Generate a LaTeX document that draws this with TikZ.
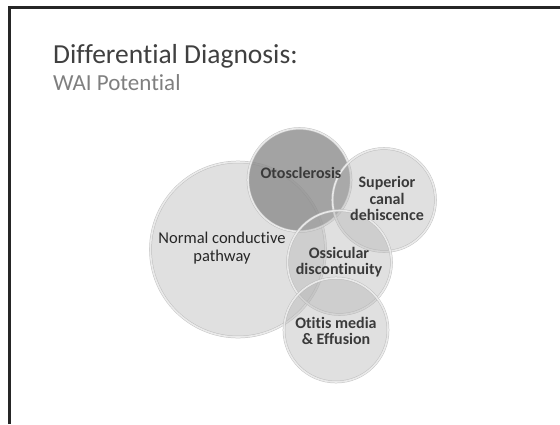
\documentclass[tikz,border=0pt]{standalone}
\usepackage{fontspec}
\setmainfont{Carlito}[Ligatures=NoCommon]
\usepackage{xcolor}
\usepackage{tikz}

\definecolor{titlegray}{HTML}{404040}
\definecolor{subgray}{HTML}{7F7F7F}
\definecolor{labelgray}{HTML}{3A3A3A}

\begin{document}
\begin{tikzpicture}[
    x=1pt,
    y=-1pt,
    bubble/.style={
        circle,
        draw=gray!55,
        line width=0.5pt,
        double=white!90!gray,
        double distance=1.6pt,
        fill=gray!60,
        fill opacity=0.4,
        draw opacity=0.85,
        inner sep=0pt
    },
    darkbubble/.style={
        bubble,
        fill=gray!90,
        fill opacity=0.8
    },
    bubbletext/.style={
        align=center,
        font=\bfseries\fontsize{16}{16.5}\selectfont,
        text=labelgray
    }
]

% ---------------------------------------------------------
% Slide frame
% ---------------------------------------------------------

\useasboundingbox (0,0) rectangle (560,424);

\draw[line width=3pt,black!85]
    (9.3,424) -- (9.3,7) -- (560,7);

% ---------------------------------------------------------
% Title
% ---------------------------------------------------------

\node[anchor=base west,inner sep=0pt,text=titlegray,
      font=\fontsize{27.5}{32}\selectfont]
    (title) at (53,63) {Differential Diagnosis:};

\node[anchor=base west,inner sep=0pt,text=subgray,
      font=\fontsize{23}{27}\selectfont]
    (subtitle) at (53,90) {WAI Potential};

% ---------------------------------------------------------
% Overlapping bubbles
% ---------------------------------------------------------

\node[bubble,minimum size=175pt]
    (normal) at (238,249.5) {};

\node[darkbubble,minimum size=103pt]
    (oto) at (299.5,180) {};

\node[bubble,minimum size=103pt]
    (scd) at (384,200) {};

\node[bubble,minimum size=104pt]
    (ossic) at (339.5,262.5) {};

\node[bubble,minimum size=104pt]
    (otitis) at (336,330) {};

% ---------------------------------------------------------
% Bubble labels (on top of all bubbles)
% ---------------------------------------------------------

\node[align=center,font=\fontsize{16.5}{18}\selectfont,text=black!85]
    (normaltext) at (222,248) {Normal conductive\\pathway};

\node[bubbletext,anchor=base]
    (ototext) at (301,178) {Otosclerosis};

\node[bubbletext]
    (scdtext) at (387,198.5) {Superior\\canal\\dehiscence};

\node[bubbletext]
    (ossictext) at (339,262) {Ossicular\\discontinuity};

\node[bubbletext]
    (otitistext) at (336,331) {Otitis media\\\& Effusion};

\end{tikzpicture}
\end{document}
